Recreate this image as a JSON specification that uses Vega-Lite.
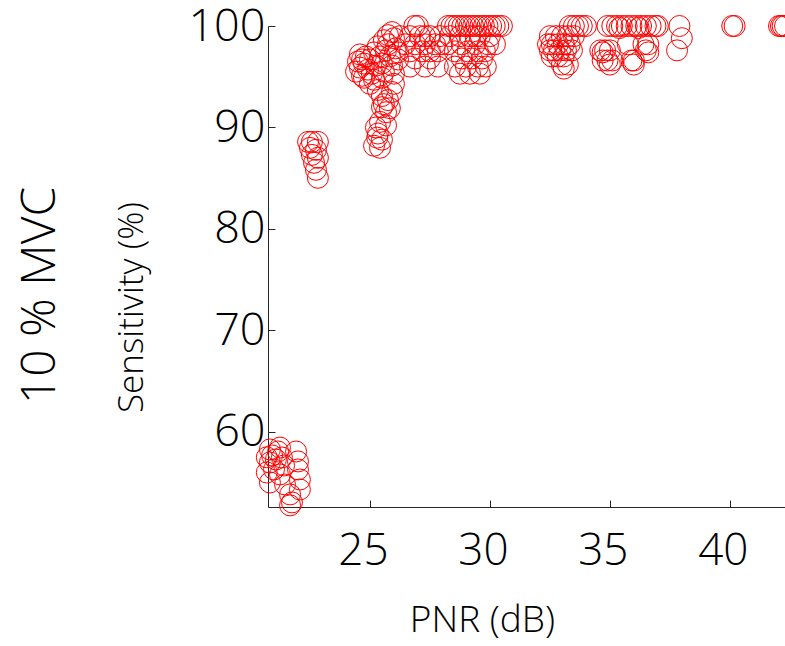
{
 "$schema": "https://vega.github.io/schema/vega-lite/v6.json",
 "autosize": {"type": "none"},
 "padding": {"left": 268, "top": 26, "right": 0, "bottom": 139},
 "width": 517,
 "height": 481,
 "background": "white",
 "config": {"view": {"stroke": null}, "font": "Open Sans"},
 "title": {"text": "10 % MVC", "orient": "left", "fontSize": 48, "font": "Open Sans", "fontWeight": 300, "color": "black", "offset": 50, "anchor": "middle", "dx": -29},
 "data": {"values": [
  {"x":20.83,"y":58.27},{"x":20.92,"y":57.68},{"x":20.83,"y":56.99},{"x":21.0,"y":56.3},{"x":20.83,"y":55.02},{"x":21.25,"y":58.46},{"x":21.33,"y":57.48},{"x":21.42,"y":56.69},{"x":21.25,"y":55.81},{"x":21.46,"y":54.82},{"x":21.67,"y":53.84},{"x":21.75,"y":53.05},{"x":21.92,"y":58.07},{"x":22.0,"y":57.09},{"x":22.0,"y":56.3},{"x":22.08,"y":55.31},{"x":22.08,"y":54.33},{"x":21.67,"y":52.76},{"x":21.08,"y":57.28},{"x":21.17,"y":58.07},{"x":20.7,"y":57.5},{"x":20.7,"y":56.0},
  {"x":22.42,"y":88.58},{"x":22.58,"y":88.58},{"x":22.83,"y":88.58},{"x":22.75,"y":87.8},{"x":22.58,"y":87.3},{"x":22.83,"y":87.01},{"x":22.67,"y":86.52},{"x":22.75,"y":85.83},{"x":22.83,"y":85.04},{"x":22.5,"y":87.99},
  {"x":24.5,"y":96.5},{"x":24.58,"y":95.9},{"x":24.42,"y":95.5},{"x":24.67,"y":95.1},{"x":24.75,"y":96.3},{"x":24.83,"y":97.0},{"x":24.58,"y":97.2},{"x":24.92,"y":95.7},{"x":25.0,"y":96.7},{"x":25.08,"y":95.3},{"x":25.17,"y":94.7},{"x":25.0,"y":94.3},{"x":24.75,"y":94.9},{"x":25.25,"y":96.1},{"x":25.17,"y":97.4},{"x":24.67,"y":96.7},
  {"x":25.42,"y":97.0},{"x":25.5,"y":96.3},{"x":25.58,"y":95.5},{"x":25.5,"y":94.9},{"x":25.67,"y":97.6},{"x":25.75,"y":98.2},{"x":25.83,"y":97.0},{"x":25.92,"y":96.1},{"x":26.0,"y":98.8},{"x":26.08,"y":97.8},{"x":26.17,"y":96.7},{"x":26.0,"y":95.3},{"x":25.75,"y":99.1},{"x":25.92,"y":99.4},{"x":26.25,"y":99.0},{"x":26.17,"y":97.4},{"x":25.33,"y":98.0},{"x":25.58,"y":98.6},
  {"x":25.33,"y":93.7},{"x":25.5,"y":93.1},{"x":25.75,"y":92.7},{"x":25.58,"y":92.3},{"x":25.92,"y":93.5},{"x":26.0,"y":94.3},{"x":25.83,"y":91.9},{"x":25.67,"y":91.5},{"x":25.5,"y":92.0},
  {"x":25.42,"y":90.55},{"x":25.25,"y":90.0},{"x":25.33,"y":89.4},{"x":25.5,"y":88.8},{"x":25.67,"y":90.2},{"x":25.17,"y":88.2},{"x":25.42,"y":88.0},{"x":25.3,"y":89.0},
  {"x":26.85,"y":100},{"x":27.0,"y":100},{"x":28.25,"y":100},{"x":28.4,"y":100},{"x":28.55,"y":100},{"x":28.7,"y":100},{"x":28.85,"y":100},{"x":29.0,"y":100},{"x":29.15,"y":100},{"x":29.3,"y":100},{"x":29.45,"y":100},{"x":29.6,"y":100},{"x":29.75,"y":100},{"x":29.9,"y":100},{"x":30.05,"y":100},{"x":30.2,"y":100},{"x":30.35,"y":100},{"x":30.5,"y":100},
  {"x":26.67,"y":99.0},{"x":27.08,"y":99.0},{"x":27.5,"y":99.0},{"x":27.92,"y":99.0},{"x":28.33,"y":99.0},{"x":28.75,"y":99.0},{"x":29.17,"y":99.0},{"x":29.58,"y":99.0},{"x":30.0,"y":99.0},{"x":27.3,"y":99.0},{"x":29.4,"y":99.0},
  {"x":26.46,"y":98.2},{"x":26.88,"y":98.2},{"x":27.29,"y":98.2},{"x":27.71,"y":98.2},{"x":28.25,"y":98.2},{"x":28.83,"y":98.2},{"x":29.38,"y":98.2},{"x":29.92,"y":98.2},{"x":30.21,"y":98.2},{"x":28.0,"y":98.2},
  {"x":26.67,"y":97.5},{"x":27.17,"y":97.5},{"x":27.83,"y":97.5},{"x":28.54,"y":97.5},{"x":29.08,"y":97.5},{"x":29.5,"y":97.5},{"x":29.79,"y":97.5},{"x":27.5,"y":97.5},
  {"x":26.88,"y":96.8},{"x":27.5,"y":96.8},{"x":28.83,"y":96.8},{"x":29.25,"y":96.8},{"x":29.67,"y":96.8},
  {"x":26.67,"y":96.0},{"x":27.29,"y":96.0},{"x":27.83,"y":96.0},{"x":28.54,"y":96.0},{"x":29.0,"y":96.0},{"x":29.5,"y":96.0},{"x":29.83,"y":96.0},
  {"x":28.75,"y":95.3},{"x":29.17,"y":95.3},{"x":29.58,"y":95.3},
  {"x":33.33,"y":100},{"x":33.5,"y":100},{"x":33.67,"y":100},{"x":33.83,"y":100},{"x":34.0,"y":100},
  {"x":32.5,"y":99.0},{"x":32.75,"y":99.0},{"x":33.0,"y":99.0},{"x":33.25,"y":99.0},{"x":33.5,"y":99.0},
  {"x":32.42,"y":98.2},{"x":32.58,"y":98.2},{"x":32.83,"y":98.2},{"x":33.08,"y":98.2},{"x":33.33,"y":98.2},
  {"x":32.5,"y":97.6},{"x":32.67,"y":97.6},{"x":32.92,"y":97.6},{"x":33.17,"y":97.6},{"x":33.42,"y":97.6},
  {"x":32.58,"y":97.0},{"x":32.83,"y":97.0},{"x":33.08,"y":97.0},
  {"x":33.0,"y":96.2},{"x":33.25,"y":96.2},{"x":33.08,"y":95.8},
  {"x":34.9,"y":100},{"x":35.1,"y":100},{"x":35.3,"y":100},{"x":35.5,"y":100},{"x":35.7,"y":100},{"x":35.9,"y":100},{"x":36.1,"y":100},{"x":36.3,"y":100},{"x":36.5,"y":100},{"x":36.7,"y":100},{"x":36.9,"y":100},{"x":37.0,"y":100},{"x":37.9,"y":100},
  {"x":35.4,"y":99.8},{"x":36.2,"y":99.8},{"x":38.0,"y":98.8},
  {"x":35.75,"y":98.2},{"x":36.6,"y":98.2},{"x":36.4,"y":98.2},
  {"x":34.6,"y":97.6},{"x":34.8,"y":97.6},{"x":35.0,"y":97.6},{"x":36.5,"y":97.6},{"x":37.8,"y":97.6},
  {"x":34.7,"y":97.4},{"x":36.6,"y":97.4},
  {"x":34.7,"y":96.6},{"x":34.9,"y":96.6},{"x":35.1,"y":96.6},{"x":36.0,"y":96.6},{"x":35.9,"y":96.6},
  {"x":35.0,"y":96.2},{"x":36.0,"y":96.2},
  {"x":40.1,"y":100},{"x":40.2,"y":100},{"x":42.05,"y":100},{"x":42.13,"y":100},{"x":42.2,"y":100},{"x":42.3,"y":100}
 ]},
 "mark": {"type": "point", "shape": "circle", "filled": false, "color": "#ff0000", "strokeWidth": 1, "size": 440, "opacity": 1},
 "encoding": {
  "x": {"field": "x", "type": "quantitative",
   "scale": {"domain": [20.75, 42.3], "nice": false, "zero": false},
   "axis": {"values": [25, 30, 35, 40], "grid": false, "title": "PNR (dB)", "titleFontSize": 37, "titleFontWeight": 300, "titleColor": "black", "titlePadding": 29, "titleX": 214,
    "labelFontSize": 44, "labelFontWeight": 300, "labelColor": "black", "labelPadding": 29, "labelOffset": -7, "tickSize": -7, "tickColor": "#262626", "domainColor": "#262626", "labelFlush": false}},
  "y": {"field": "y", "type": "quantitative",
   "scale": {"domain": [52.6, 100], "nice": false, "zero": false},
   "axis": {"values": [60, 70, 80, 90, 100], "grid": false, "title": "Sensitivity (%)", "titleFontSize": 35, "titleFontWeight": 300, "titleColor": "black", "titlePadding": 38, "titleY": 281,
    "labelFontSize": 45, "labelFontWeight": 300, "labelColor": "black", "labelPadding": 10, "tickSize": -7, "tickColor": "#262626", "domainColor": "#262626", "labelFlush": false}}
 }
}
